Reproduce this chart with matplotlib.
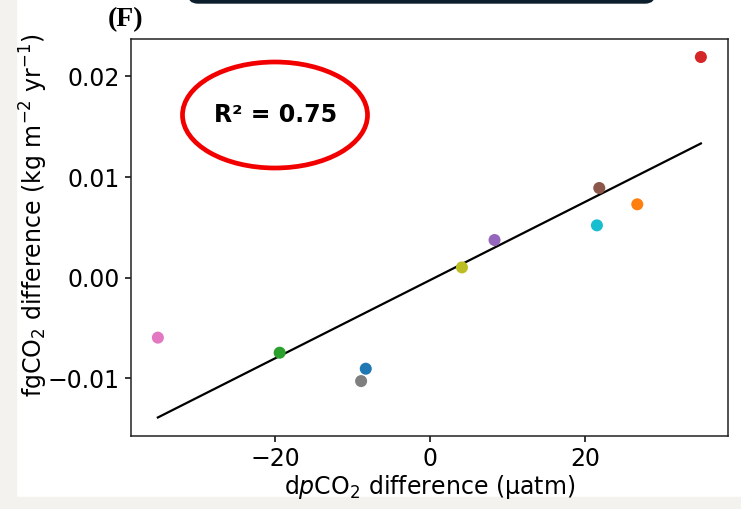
import matplotlib
matplotlib.use('Agg')
import matplotlib.pyplot as plt
import numpy as np
from matplotlib.patches import Ellipse, Rectangle, FancyBboxPatch

# model points (tab10 order)
dpco2_diff = [-8.3, 26.7, -19.4, 34.9, 8.3, 21.8, -35.1, -8.9, 4.1, 21.5]
fgco2_diff = [-0.00905, 0.00729, -0.00746, 0.02193, 0.00374, 0.00891,
              -0.00596, -0.01028, 0.00102, 0.0052]
point_colors = ['tab:blue', 'tab:orange', 'tab:green', 'tab:red', 'tab:purple',
                'tab:brown', 'tab:pink', 'tab:gray', 'tab:olive', 'tab:cyan']
r2_text = 'R\u00b2 = 0.75'

fig = plt.figure(figsize=(7.41, 5.09), dpi=100)
ax = fig.add_axes([0.1764, 0.1444, 0.8061, 0.779])

x = np.array(dpco2_diff)
y = np.array(fgco2_diff)
ax.scatter(x, y, c=point_colors, s=75, zorder=3, edgecolors='none')

slope, intercept = np.polyfit(x, y, 1)
xl = np.array([x.min(), x.max()])
ax.plot(xl, slope * xl + intercept, color='black', lw=1.6)

ax.set_xticks([-20, 0, 20])
ax.set_yticks([-0.01, 0.0, 0.01, 0.02])
ax.tick_params(labelsize=17, length=4.5, width=1.1)
for s in ax.spines.values():
    s.set_linewidth(1.1)
    s.set_color('#222222')

ax.set_xlabel('d$p$CO$_2$ difference (µatm)', fontsize=17, labelpad=2)
ax.set_ylabel('fgCO$_2$ difference (kg m$^{-2}$ yr$^{-1}$)', fontsize=17)
ax.yaxis.set_label_coords(-0.135, 0.555)

# panel letter
fig.text(0.169, 0.962, '(F)', fontsize=20, fontweight='bold',
         family='Liberation Serif', ha='center', va='center')

# R^2 annotation with red ellipse
fig.text(276 / 741, 1 - 115 / 509, r2_text, fontsize=17, fontweight='bold',
         ha='center', va='center')
fig.add_artist(Ellipse((275 / 741, 1 - 115 / 509), 185 / 741, 106 / 509,
                       transform=fig.transFigure, fill=False,
                       edgecolor='#f20000', lw=3.4))

# page background strips and dark box at top
fig.add_artist(Rectangle((0, 0), 15.5 / 741, 1, transform=fig.transFigure,
                         color='#f3f2ee', zorder=0))
fig.add_artist(Rectangle((0, 0), 1, 12 / 509, transform=fig.transFigure,
                         color='#f3f2ee', zorder=0))
fig.add_artist(FancyBboxPatch((1.88, 5.06), 4.67, 0.3,
                              boxstyle='round,pad=0,rounding_size=0.1',
                              transform=fig.dpi_scale_trans,
                              color='#0c1e2c'))

fig.savefig('out.png', dpi=100)
